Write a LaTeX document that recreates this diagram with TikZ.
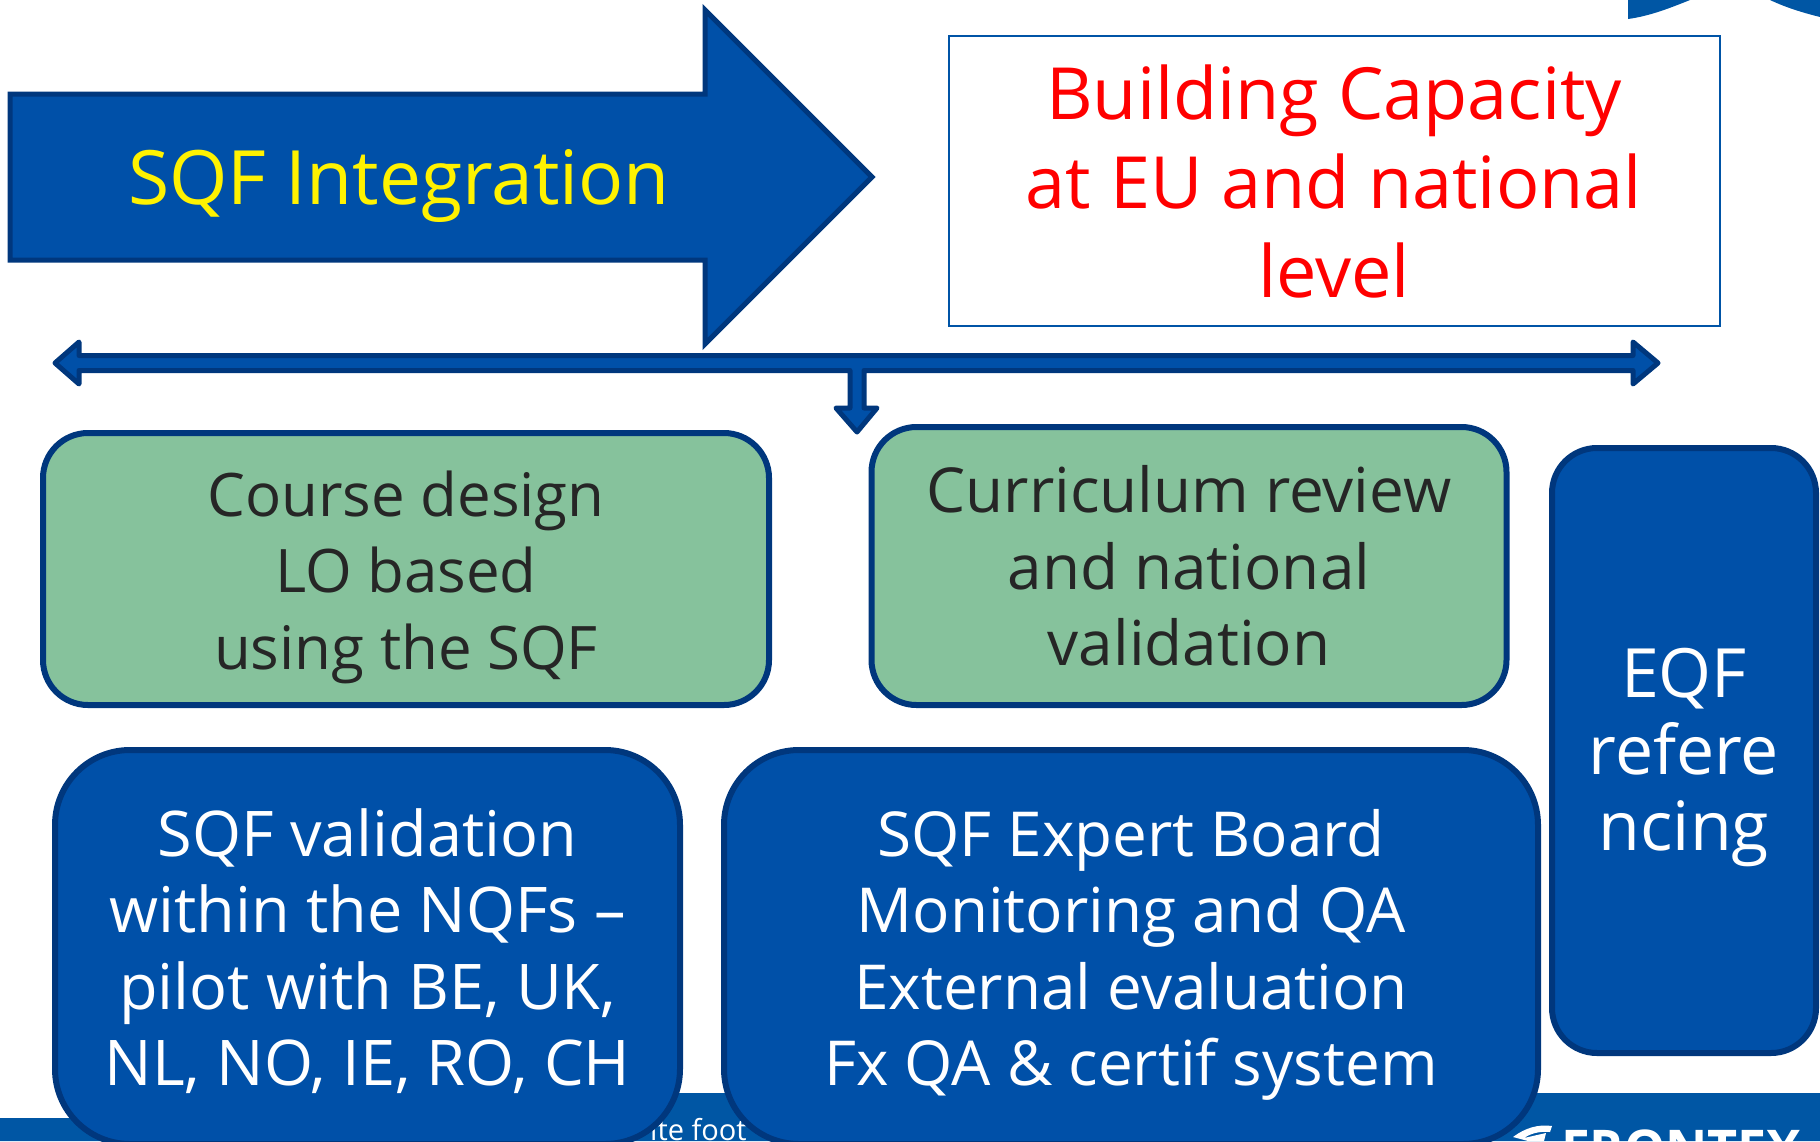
\documentclass[tikz,border=0pt]{standalone}
\usepackage{fontspec}
\setmainfont{Open Sans}
\usetikzlibrary{positioning}
\definecolor{sqfblue}{RGB}{0,80,168}
\definecolor{sqfedge}{RGB}{0,55,125}
\definecolor{sqfband}{RGB}{0,86,164}
\definecolor{sqfgreen}{RGB}{134,194,156}
\definecolor{sqfframe}{RGB}{0,84,166}
\definecolor{sqfink}{RGB}{38,38,38}
\tikzset{
  bluearrow/.style={draw=sqfedge,fill=sqfblue,line width=5pt,miter limit=10},
  greenbox/.style={draw=sqfedge,fill=sqfgreen,text=sqfink,line width=6pt,rounded corners=45pt,align=center,inner sep=0pt,
    font=\fontsize{62}{76.5}\selectfont},
  bluebox/.style={draw=sqfedge,fill=sqfblue,line width=6pt,rounded corners=75pt,inner sep=0pt},
  boxtext/.style={align=center,inner sep=0pt,font=\fontsize{63}{76.5}\selectfont}
}

\begin{document}
\begin{tikzpicture}[x=1pt,y=-1pt]
\useasboundingbox (0,0) rectangle (1820,1141);

% footer band
\fill[sqfband] (0,1118) -- (300,1118) -- (300,1093) -- (1820,1093) -- (1820,1141) -- (0,1141) -- cycle;
\node[text=white,font=\fontsize{29}{29}\selectfont,anchor=base west,inner sep=0pt] (foot) at (650,1140) {ite foot};
\node[text=white,font=\fontsize{52}{52}\bfseries\selectfont,anchor=base west,inner sep=0pt] (brand) at (1561,1167) {FRONTEX};
\fill[white] (1513,1137) .. controls (1525,1128) and (1538,1124) .. (1552,1126) -- (1550,1132) .. controls (1538,1131) and (1530,1134) .. (1524,1138) -- (1546,1133) -- (1544,1141) -- (1528,1141) -- cycle;

% top corner
\fill[sqfband] (1628,0) -- (1628,19) .. controls (1650,16) and (1670,8) .. (1690,0) -- cycle;
\fill[sqfband] (1770,0) .. controls (1785,7) and (1800,12) .. (1820,17) -- (1820,0) -- cycle;

% big arrow
\draw[bluearrow] (10,94) -- (705,94) -- (705,10) -- (872,177) -- (705,344) -- (705,260) -- (10,260) -- cycle;
\node[text=yellow,font=\fontsize{75}{75}\selectfont,inner sep=0pt] (integration) at (399,186) {SQF Integration};

\node[draw=sqfframe,line width=2pt,minimum width=771pt,minimum height=290pt,align=center,inner sep=0pt,text=red,
  font=\fontsize{72}{89}\selectfont] (capacity) at (1334,181) {Building Capacity\\at EU and national\\level};

% double arrow with stem
\draw[bluearrow,line join=round] (55,363) -- (79,342) -- (79,355.5) -- (1633,355.5) -- (1633,342) -- (1658,363) -- (1633,384)
  -- (1633,370.5) -- (864,370.5) -- (864,408) -- (877,408) -- (857,432) -- (836,408) -- (850,408) -- (850,370.5) -- (79,370.5) -- (79,384) -- cycle;

\node[greenbox,minimum width=726pt,minimum height=272pt] (design) at (406,569) {};
\node[boxtext,text=sqfink,font=\fontsize{60}{76.5}\selectfont] (designtext) at (406,577) {Course design\\LO based\\using the SQF};
\node[greenbox,minimum width=635pt,minimum height=278pt] (review) at (1189,566) {Curriculum review\\and national\\validation};
\node[bluebox,rounded corners=45pt,minimum width=264pt,minimum height=605pt] (eqf) at (1684,750.5) {};
\node[boxtext,text=white,font=\fontsize{68}{76.5}\selectfont] (eqftext) at (1684,758) {EQF\\refere\\ncing};
\node[bluebox,minimum width=625pt,minimum height=394pt] (pilot) at (367.5,947) {};
\node[boxtext,text=white] (pilottext) at (367.5,951) {SQF validation\\within the NQFs –\\pilot with BE, UK,\\NL, NO, IE, RO, CH};
\node[bluebox,minimum width=814pt,minimum height=394pt] (board) at (1131,947) {};
\node[boxtext,text=white,font=\fontsize{62}{76.5}\selectfont] (boardtext) at (1131,955) {SQF Expert Board\\Monitoring and QA\\External evaluation\\Fx QA \& certif system};
\end{tikzpicture}
\end{document}
